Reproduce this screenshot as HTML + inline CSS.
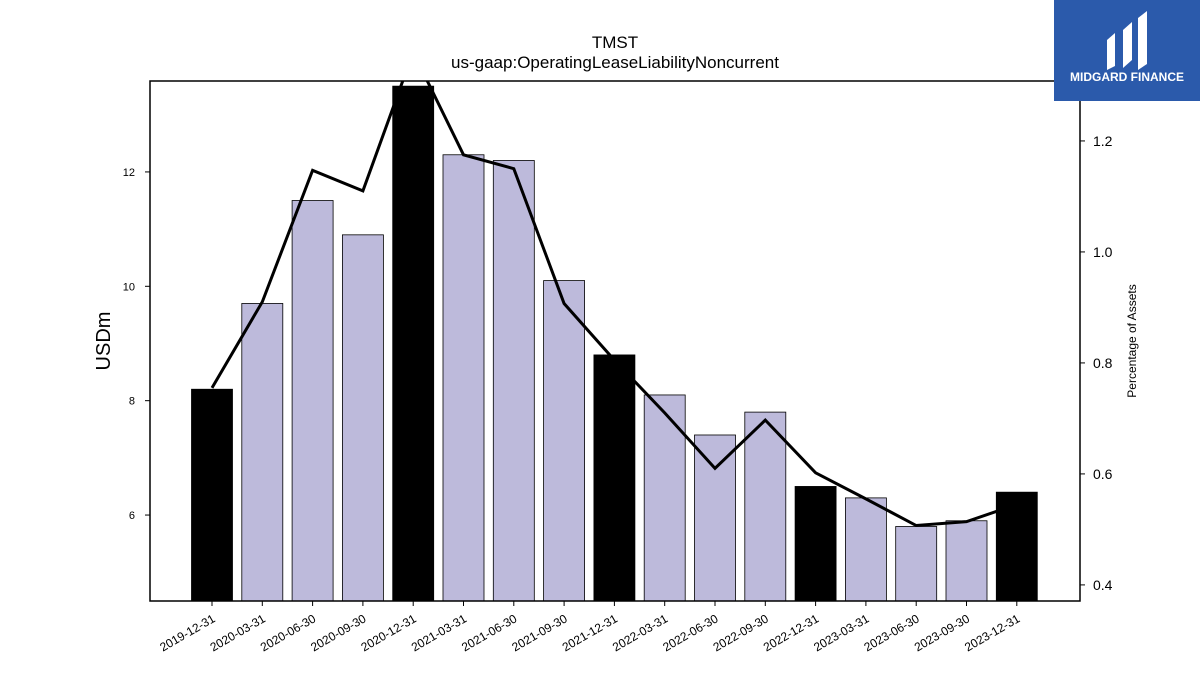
<!DOCTYPE html>
<html><head><meta charset="utf-8"><style>
body{margin:0;background:#fff;font-family:"Liberation Sans",sans-serif}
</style></head><body>
<svg id="chart" width="1200" height="675" xmlns="http://www.w3.org/2000/svg" font-family="Liberation Sans, sans-serif">
<text x="615" y="48" text-anchor="middle" font-size="17">TMST</text>
<text x="615" y="68" text-anchor="middle" font-size="17">us-gaap:OperatingLeaseLiabilityNoncurrent</text>
<g id="bars"></g><g id="line"></g><g id="axes"></g>
<text transform="translate(110,341) rotate(-90)" text-anchor="middle" font-size="20">USDm</text>
<text transform="translate(1136,341) rotate(-90)" text-anchor="middle" font-size="12">Percentage of Assets</text>
<g>
<rect x="1054" y="0" width="146" height="101" fill="#2b5aab"/>
<path d="M1107 40 L1115 33 L1115 66 L1107 70 Z M1123 30 L1132 22 L1132 60 L1123 68 Z M1138 18 L1147 11 L1147 64 L1138 70 Z" fill="#fff"/>
<text x="1127" y="81" text-anchor="middle" font-size="12" font-weight="bold" fill="#fff">MIDGARD FINANCE</text>
</g>
</svg>
<script>
const categories=["2019-12-31","2020-03-31","2020-06-30","2020-09-30","2020-12-31","2021-03-31","2021-06-30","2021-09-30","2021-12-31","2022-03-31","2022-06-30","2022-09-30","2022-12-31","2023-03-31","2023-06-30","2023-09-30","2023-12-31"];
const barValues=[8.2,9.7,11.5,10.9,13.5,12.3,12.2,10.1,8.8,8.1,7.4,7.8,6.5,6.3,5.8,5.9,6.4];
const pctValues=[0.755,0.91,1.147,1.11,1.36,1.175,1.15,0.907,0.805,0.71,0.61,0.697,0.602,0.555,0.507,0.514,0.545];
const leftTicks=[6,8,10,12];
const rightTicks=[0.4,0.6,0.8,1.0,1.2];
const NS="http://www.w3.org/2000/svg";
const L=150,R=1080,T=81,B=601;
const yL=v=>B-(v-4.497)*(B-T)/(13.59-4.497);
const yR=v=>B-(v-0.371)*(B-T)/(1.308-0.371);
const xC=i=>212+i*50.3;
function mk(t,a,p){const e=document.createElementNS(NS,t);for(const k in a)e.setAttribute(k,a[k]);p.appendChild(e);return e;}
const bars=document.getElementById('bars'),line=document.getElementById('line'),axes=document.getElementById('axes');
const clip=mk('clipPath',{id:'pc'},document.getElementById('chart'));mk('rect',{x:L,y:T,width:R-L,height:B-T},clip);
barValues.forEach((v,i)=>{
 const r=mk('rect',{x:xC(i)-20.5,y:yL(v),width:41,height:B-yL(v),fill:(i%4==0)?'#000':'#bdbadb',stroke:'#000','stroke-width':0.8},bars);
 
 
});
const p=mk('polyline',{points:pctValues.map((v,i)=>xC(i)+','+yR(v)).join(' '),fill:'none',stroke:'#000','stroke-width':3,'clip-path':'url(#pc)'},line);


const fr=mk('rect',{x:L,y:T,width:R-L,height:B-T,fill:'none',stroke:'#000','stroke-width':1.5},axes);


leftTicks.forEach(v=>{const y=yL(v);mk('line',{x1:L-5,x2:L,y1:y,y2:y,stroke:'#000'},axes);
 const t=mk('text',{x:L-15,y:y+4,'text-anchor':'end','font-size':11},axes);t.textContent=v;
 
 });
rightTicks.forEach(v=>{const y=yR(v);mk('line',{x1:R,x2:R+5,y1:y,y2:y,stroke:'#000'},axes);
 const t=mk('text',{x:R+13,y:y+5,'font-size':14},axes);t.textContent=v.toFixed(1);
 
 });
categories.forEach((c,i)=>{const x=xC(i);mk('line',{x1:x,x2:x,y1:B,y2:B+5,stroke:'#000'},axes);
 const t=mk('text',{'text-anchor':'end','font-size':12,transform:`translate(${x+4},${B+20}) rotate(-30)`},axes);t.textContent=c;
 
 });
</script>
</body></html>
